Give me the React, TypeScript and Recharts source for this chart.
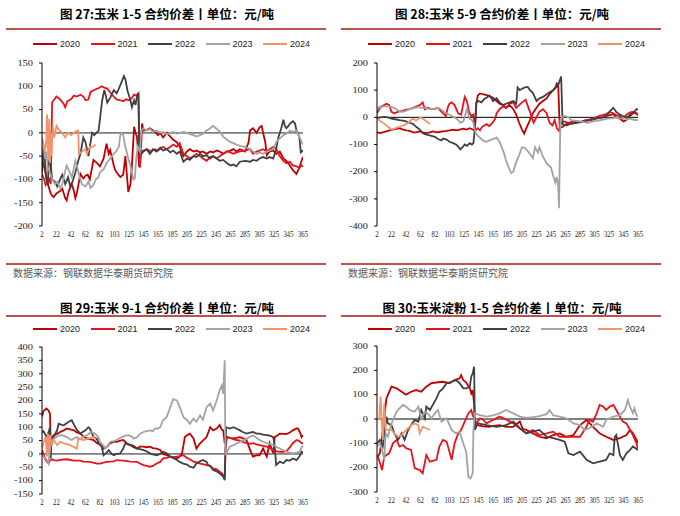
import React from 'react'
import { LineChart, Line, XAxis, YAxis, ReferenceLine } from 'recharts'

// x axis is the category index (0..360), labelled every 20 categories
const xLabels = ['2', '22', '42', '62', '82', '103', '125', '145', '165', '185', '205', '225', '245', '265', '285', '305', '325', '345', '365']
const xTicks = xLabels.map((_, i) => i * 20)

const years = ['2020', '2021', '2022', '2023', '2024']
const colors = ['#C00000', '#E8121C', '#404040', '#A3A3A3', '#F4936A']

type Pt = [number, number]

// 图27 玉米 1-5
const c15_2020: Pt[] = [[0,-55],[4,-80],[8,-110],[12,-130],[14,-135],[16,-138],[20,-130],[25,-125],[28,-120],[32,-140],[34,-145],[37,-125],[41,-110],[44,-125],[46,-140],[48,-130],[53,-88],[57,-98],[60,-92],[63,-90],[66,-100],[71,-58],[76,-65],[80,-72],[85,-55],[89,-23],[92,-45],[94,-37],[99,-70],[101,-80],[103,-85],[108,-95],[112,-90],[115,-50],[119,-127],[122,-110],[124,-72],[127,13],[129,0],[131,-8],[134,-73],[137,-20],[138,20],[140,5],[144,6],[149,10],[156,2],[160,-5],[163,0],[167,-10],[172,0],[177,-8],[181,-15],[186,-20],[190,-30],[195,-50],[200,-40],[204,-35],[209,-40],[213,-38],[218,-42],[222,-40],[227,-45],[232,-40],[236,-42],[241,-38],[245,-40],[250,-45],[255,-40],[260,-38],[264,-35],[268,-40],[273,-35],[280,-40],[285,-20],[287,5],[291,10],[296,0],[300,12],[303,15],[305,0],[308,-20],[310,-48],[314,-40],[319,-38],[323,-45],[328,-40],[333,-55],[337,-60],[342,-70],[346,-80],[351,-88],[355,-75],[358,-60],[360,-52]]
const c15_2021: Pt[] = [[0,-88],[3,-100],[5,-112],[8,-105],[10,-100],[12,-110],[14,65],[16,70],[20,78],[25,72],[30,62],[32,55],[35,68],[40,72],[44,80],[48,78],[53,82],[57,78],[60,70],[64,72],[67,88],[72,92],[78,96],[82,100],[86,97],[90,95],[95,85],[99,78],[103,72],[108,70],[112,68],[116,72],[120,70],[124,75],[127,82],[130,80],[133,85],[135,-75],[137,-40],[140,-38],[145,-35],[150,-40],[156,-35],[160,-38],[167,-30],[172,-35],[177,-30],[181,-25],[186,-30],[190,-22],[195,-45],[200,-50],[204,-55],[209,-50],[213,-45],[218,-50],[222,-55],[227,-60],[232,-52],[236,-50],[241,-55],[245,-50],[250,-45],[255,-40],[260,-42],[264,-45],[268,-42],[273,-40],[280,-38],[287,-35],[291,-45],[296,-40],[300,-38],[305,-35],[310,-40],[314,-35],[319,-30],[323,-35],[328,-50],[333,-60],[337,-65],[342,-62],[346,-70],[351,-72],[355,-75],[358,-70],[360,-72]]
const c15_2022: Pt[] = [[0,-85],[2,-30],[4,-60],[6,-100],[8,-110],[10,-40],[12,-70],[14,-100],[18,-105],[21,-115],[25,-100],[28,-90],[32,-110],[36,-95],[39,-115],[42,-105],[46,-85],[50,-60],[53,-45],[57,-10],[60,-20],[62,-35],[64,-50],[66,-30],[69,0],[72,-5],[75,0],[78,5],[80,30],[83,70],[86,92],[88,80],[90,65],[94,75],[99,92],[103,85],[106,95],[110,110],[113,122],[115,115],[118,90],[120,80],[122,70],[124,55],[127,70],[129,60],[131,78],[133,85],[134,-40],[137,-45],[140,-40],[144,-35],[149,-45],[153,-35],[158,-40],[163,-32],[167,-38],[172,-35],[177,-42],[181,-38],[186,-45],[190,-40],[195,-62],[200,-55],[204,-58],[209,-50],[213,-52],[218,-45],[222,-50],[227,-48],[232,-55],[236,-50],[241,-55],[245,-60],[250,-58],[255,-65],[260,-70],[264,-68],[268,-72],[273,-62],[280,-60],[287,-62],[291,-58],[296,-60],[300,-55],[305,-52],[310,-55],[314,-52],[319,-55],[323,-35],[326,-10],[330,10],[333,28],[335,15],[337,10],[340,15],[342,20],[346,25],[349,20],[351,5],[353,0],[355,-10],[357,-42],[360,-38]]
const c15_2023: Pt[] = [[0,-10],[2,-25],[4,-55],[6,-40],[8,-75],[11,-85],[14,-100],[18,-110],[21,-105],[25,-118],[28,-110],[30,-95],[34,-70],[37,-80],[41,-95],[44,-75],[46,-60],[48,-70],[51,-90],[55,-110],[60,-115],[64,-105],[67,-118],[71,-112],[74,-100],[78,-95],[80,-85],[85,-78],[89,-65],[94,-55],[99,-45],[103,-38],[106,-30],[108,-5],[110,0],[112,-5],[115,-30],[119,-55],[122,-70],[126,-100],[128,-98],[130,-55],[132,-30],[135,-40],[137,5],[140,10],[144,5],[149,8],[153,2],[158,5],[163,0],[167,2],[172,-3],[177,0],[181,2],[186,-2],[190,0],[195,2],[200,0],[204,-3],[209,-5],[213,-8],[218,-5],[222,-2],[227,5],[232,10],[236,15],[240,10],[245,3],[250,-8],[255,-15],[260,-20],[264,-22],[268,-25],[273,-28],[280,-30],[287,-35],[291,-40],[296,-45],[300,-42],[305,-45],[310,-40],[314,-38],[319,-35],[323,-20],[328,-12],[333,-5],[337,-2],[342,5],[346,2],[351,5],[353,-2],[357,-15],[360,-25]]
const c15_2024: Pt[] = [[0,-15],[2,-25],[4,-40],[6,-15],[7,40],[8,-30],[9,-60],[10,30],[11,-65],[12,0],[13,-50],[15,15],[17,-10],[20,15],[24,5],[28,0],[32,-10],[36,0],[40,-5],[44,0],[48,5],[50,5],[51,-45],[55,-40],[60,-35],[62,-45],[66,-30],[70,-30],[74,-25]]

// 图28 玉米 5-9
const c59_2020: Pt[] = [[0,-55],[4,-58],[8,-55],[13,-52],[17,-48],[22,-45],[27,-42],[31,-40],[36,-45],[40,-48],[45,-50],[50,-55],[54,-55],[59,-52],[63,-55],[68,-58],[73,-55],[77,-52],[82,-55],[86,-54],[91,-52],[96,-50],[100,-48],[105,-45],[109,-48],[114,-45],[119,-42],[123,-45],[128,-40],[132,-45],[135,-50],[137,50],[139,80],[142,88],[146,85],[151,82],[155,78],[160,72],[165,60],[169,50],[174,45],[178,35],[183,45],[188,30],[192,10],[196,-20],[200,-45],[203,-60],[206,-40],[211,-10],[215,15],[220,35],[224,50],[229,60],[234,70],[238,85],[243,100],[247,110],[250,120],[252,-40],[256,-35],[261,-25],[266,-20],[271,-22],[276,-15],[280,-18],[286,-12],[291,-10],[296,-8],[300,-5],[305,0],[310,-2],[316,5],[321,8],[326,12],[330,0],[335,-5],[340,-15],[344,-10],[349,10],[353,20],[358,15],[360,8]]
const c59_2021: Pt[] = [[0,15],[3,30],[6,40],[10,45],[13,50],[17,45],[20,20],[24,15],[27,18],[31,22],[36,25],[40,28],[45,30],[50,35],[54,40],[59,45],[63,55],[66,30],[70,35],[75,30],[80,32],[84,35],[89,20],[95,5],[98,40],[100,50],[103,55],[107,45],[112,15],[116,10],[121,75],[124,60],[127,20],[130,5],[133,10],[135,-50],[139,-40],[142,-48],[145,-35],[151,-25],[155,-32],[160,-18],[163,-5],[165,15],[169,30],[174,40],[178,35],[183,50],[188,55],[192,35],[196,45],[200,55],[205,65],[209,35],[213,5],[216,-20],[220,0],[224,20],[229,30],[234,15],[238,-20],[242,-30],[245,-10],[248,-40],[251,-50],[254,-20],[258,-15],[264,-20],[271,-15],[280,-18],[289,-10],[298,-5],[307,5],[316,12],[321,20],[326,15],[330,8],[335,5],[339,-5],[344,10],[349,18],[353,20],[358,12],[360,10]]
const c59_2022: Pt[] = [[0,-3],[5,0],[10,2],[15,0],[20,-5],[27,-8],[31,-10],[36,-12],[40,-15],[45,-20],[50,-25],[54,-35],[59,-45],[63,-58],[66,-62],[70,-65],[75,-68],[80,-72],[84,-80],[89,-85],[91,-78],[96,-82],[100,-90],[105,-95],[109,-100],[112,-108],[115,-118],[118,-110],[121,-100],[124,-105],[128,-95],[131,-100],[133,-95],[135,-40],[137,55],[140,60],[144,55],[148,68],[151,72],[155,80],[158,70],[160,60],[165,70],[169,55],[174,45],[178,50],[183,55],[188,60],[192,50],[194,110],[197,100],[200,105],[204,110],[208,112],[211,100],[215,90],[220,60],[224,70],[229,75],[234,85],[238,92],[243,100],[246,110],[248,125],[250,120],[252,135],[254,150],[256,-25],[261,-30],[266,-25],[271,-22],[276,-20],[280,-18],[286,-15],[291,-12],[298,-8],[305,-3],[312,0],[318,10],[322,25],[326,35],[330,20],[335,10],[339,5],[344,0],[349,5],[353,15],[358,30],[360,28]]
const c59_2023: Pt[] = [[0,35],[5,38],[10,40],[15,40],[20,38],[24,35],[29,25],[34,20],[38,22],[43,28],[47,32],[52,35],[57,38],[61,35],[66,35],[70,32],[75,30],[80,30],[84,35],[89,28],[93,18],[98,12],[103,5],[107,0],[112,-10],[115,-20],[119,-15],[122,10],[124,35],[126,10],[128,-5],[131,-10],[133,-20],[135,-50],[138,-65],[142,-75],[146,-85],[151,-90],[155,-85],[160,-80],[165,-75],[169,-90],[172,-110],[175,-130],[178,-160],[181,-180],[185,-205],[188,-200],[192,-165],[196,-140],[200,-110],[204,-112],[208,-125],[211,-135],[215,-150],[218,-110],[222,-130],[224,-110],[229,-145],[234,-170],[238,-180],[240,-185],[243,-215],[246,-240],[248,-220],[250,-255],[251,-335],[253,-10],[255,0],[259,5],[264,0],[268,-10],[273,-12],[280,-15],[286,-18],[291,-20],[298,-15],[305,-12],[312,-8],[318,-5],[326,-3],[330,0],[335,-5],[340,-3],[344,-8],[349,-5],[353,-8],[358,-10],[360,-10]]
const c59_2024: Pt[] = [[0,-5],[3,-10],[5,-15],[8,-20],[11,-25],[15,-35],[20,-45],[24,-42],[27,-38],[31,-35],[34,-32],[38,-28],[40,-25],[43,-20],[47,-10],[50,-5],[52,-8],[54,-12],[57,-5],[59,-2],[61,0],[63,-5],[66,-10],[68,-15],[70,-18],[73,-25]]

// 图29 玉米 9-1
const c91_2020: Pt[] = [[0,140],[2,160],[6,170],[9,162],[11,150],[12,40],[14,60],[16,70],[21,75],[25,82],[30,88],[34,95],[39,92],[44,88],[48,80],[53,76],[57,65],[62,58],[66,55],[71,52],[76,40],[80,35],[85,20],[89,25],[94,40],[99,45],[103,45],[108,50],[112,52],[117,40],[122,33],[126,25],[131,20],[135,27],[140,27],[144,25],[149,27],[153,22],[158,20],[163,15],[167,0],[172,-5],[177,-10],[181,-15],[186,-17],[190,-10],[193,2],[195,30],[197,63],[200,70],[204,76],[209,58],[213,20],[218,40],[222,50],[227,63],[232,100],[236,88],[241,95],[245,108],[248,90],[250,88],[252,40],[255,63],[259,60],[264,58],[268,60],[273,63],[277,58],[282,52],[287,15],[291,-10],[296,-5],[300,-5],[305,20],[310,-10],[314,40],[319,2],[321,63],[325,70],[328,76],[333,75],[337,74],[342,80],[346,88],[351,95],[353,95],[356,80],[358,63],[360,70]]
const c91_2021: Pt[] = [[0,14],[2,0],[5,-23],[7,-30],[9,-36],[11,-25],[14,-20],[16,-23],[21,-25],[25,-22],[34,-20],[44,-25],[53,-25],[57,-29],[66,-30],[76,-36],[80,-36],[89,-30],[99,-28],[103,-23],[112,-25],[122,-29],[131,-30],[135,-36],[140,-42],[144,-45],[149,-48],[153,-45],[158,-36],[163,-30],[167,-17],[172,-15],[177,-10],[181,-12],[186,-10],[190,-8],[195,-5],[200,-15],[204,-20],[209,-29],[213,-32],[218,-36],[222,-38],[227,-42],[232,-45],[236,-54],[241,-58],[245,-67],[248,-72],[250,-80],[252,-85],[253,14],[255,63],[259,60],[264,55],[268,52],[273,50],[277,45],[282,40],[287,38],[291,40],[296,36],[300,33],[305,30],[310,27],[314,22],[319,14],[323,10],[328,8],[333,8],[337,10],[342,25],[346,40],[351,52],[355,48],[358,40],[360,40]]
const c91_2022: Pt[] = [[0,80],[2,85],[5,70],[7,63],[10,90],[11,100],[12,-17],[13,40],[16,63],[21,90],[23,113],[28,108],[30,107],[34,115],[37,120],[41,126],[44,110],[46,100],[48,90],[53,76],[55,80],[60,88],[64,100],[66,95],[67,90],[71,63],[76,55],[78,40],[82,30],[85,-5],[89,5],[92,14],[96,0],[99,-5],[103,0],[108,2],[112,20],[115,40],[119,35],[124,33],[128,28],[131,20],[135,18],[140,14],[144,10],[149,2],[153,-2],[158,-5],[163,0],[167,8],[172,2],[177,-10],[181,-15],[186,-23],[190,-30],[195,-36],[200,-40],[204,-48],[209,-52],[213,-36],[218,-28],[222,-23],[227,-30],[229,-42],[232,-45],[236,-60],[241,-65],[245,-73],[248,-80],[250,-85],[252,-98],[254,100],[259,95],[264,100],[268,95],[273,88],[277,82],[282,76],[287,80],[291,82],[296,76],[300,76],[305,72],[310,70],[314,68],[319,63],[321,30],[323,-42],[328,-29],[333,-35],[337,-23],[342,-25],[346,-17],[351,-23],[355,-10],[358,8],[360,5]]
const c91_2023: Pt[] = [[0,0],[2,-10],[5,-17],[7,-25],[9,-36],[11,20],[14,45],[16,57],[21,65],[25,70],[30,68],[34,63],[39,55],[41,52],[44,58],[48,63],[53,55],[57,63],[62,70],[66,78],[67,82],[73,76],[78,62],[80,45],[85,30],[87,20],[92,35],[94,45],[99,48],[103,52],[106,57],[110,63],[115,68],[119,70],[124,65],[126,57],[131,62],[135,75],[140,82],[144,85],[149,88],[153,85],[156,95],[160,95],[163,100],[167,126],[172,138],[177,175],[181,205],[186,200],[190,175],[195,138],[200,126],[204,113],[209,132],[213,120],[218,144],[222,128],[227,175],[232,188],[236,163],[241,200],[245,238],[248,256],[250,225],[252,350],[253,-5],[259,27],[264,33],[273,45],[282,57],[291,70],[300,52],[310,40],[319,33],[328,20],[337,8],[346,2],[351,5],[355,8],[360,33]]
const c91_2024: Pt[] = [[0,20],[2,40],[5,63],[7,-10],[8,76],[10,2],[11,70],[14,33],[16,52],[21,33],[25,45],[30,40],[39,33],[48,20],[50,57],[57,52],[64,57],[71,63],[74,55]]

// 图30 玉米淀粉 1-5
const s15_2020: Pt[] = [[0,-160],[4,-140],[8,-50],[13,85],[20,133],[27,126],[34,112],[40,100],[47,112],[54,119],[61,112],[68,133],[75,147],[82,150],[91,153],[100,147],[107,160],[114,167],[116,180],[119,160],[123,150],[128,126],[130,105],[132,119],[134,60],[135,-20],[139,-25],[146,-30],[155,-32],[160,-28],[169,-25],[178,-32],[188,-32],[197,-10],[201,-40],[206,-45],[215,-59],[224,-73],[234,-79],[243,-66],[252,-59],[261,-73],[271,-66],[280,-25],[289,-4],[298,-32],[307,-59],[316,-73],[326,-86],[335,-79],[344,-66],[349,-45],[353,-59],[358,-86],[360,-100]]
const s15_2021: Pt[] = [[0,-150],[3,-170],[7,-210],[10,-155],[17,-140],[22,-100],[27,-86],[31,-113],[36,-107],[40,-120],[47,-127],[52,-202],[59,-210],[63,-223],[68,-148],[73,-175],[82,-168],[86,-113],[91,-86],[96,-93],[103,-168],[107,-100],[112,-59],[116,-45],[121,-11],[126,23],[130,37],[132,16],[137,-18],[142,3],[146,-2],[151,-18],[160,-4],[169,10],[178,-2],[188,-18],[197,-38],[206,-59],[215,-45],[224,-66],[234,-59],[243,-52],[252,-73],[261,-73],[271,-73],[280,-73],[289,-32],[293,-4],[298,-11],[303,23],[307,58],[312,51],[316,37],[321,51],[326,58],[330,37],[335,10],[339,-11],[344,-18],[349,-45],[353,-66],[358,-100],[360,-127]]
const s15_2022: Pt[] = [[0,-100],[4,-86],[8,-113],[13,10],[15,-18],[20,-25],[24,-59],[29,-86],[34,-59],[38,-86],[43,-45],[47,-25],[52,-4],[57,-11],[61,37],[66,3],[68,51],[73,37],[77,58],[82,85],[86,112],[91,126],[96,147],[103,153],[109,160],[114,147],[119,126],[123,126],[128,133],[130,174],[132,188],[134,215],[135,-45],[139,-18],[151,-25],[165,-32],[178,-25],[188,-11],[197,-38],[206,-59],[215,-52],[224,-45],[234,-73],[243,-79],[252,-86],[259,-93],[264,-141],[271,-148],[280,-134],[289,-168],[298,-182],[307,-175],[316,-168],[321,-141],[326,-148],[328,-73],[330,-66],[335,-148],[339,-168],[344,-141],[349,-127],[353,-113],[360,-127]]
const s15_2023: Pt[] = [[0,-113],[4,-100],[7,-127],[10,-168],[12,-59],[15,-73],[20,-18],[22,-5],[27,30],[31,44],[36,58],[40,51],[45,37],[52,30],[57,51],[61,3],[66,30],[70,23],[75,3],[80,23],[84,37],[89,-11],[96,3],[103,-45],[109,-59],[114,-52],[119,-100],[123,-134],[126,-237],[129,-244],[132,-223],[133,-45],[135,23],[142,16],[151,10],[160,15],[169,23],[178,37],[188,23],[197,10],[206,5],[215,8],[224,12],[234,20],[238,37],[243,15],[252,10],[261,3],[271,-18],[280,-25],[286,-45],[293,-38],[303,-18],[312,-32],[316,-4],[326,10],[335,16],[342,37],[346,78],[349,51],[353,23],[355,44],[358,16],[360,10]]
const s15_2024: Pt[] = [[0,-4],[3,3],[5,92],[6,23],[8,-86],[10,64],[12,-45],[15,-45],[20,-45],[24,-59],[29,-73],[34,-66],[38,-52],[43,-38],[47,-25],[52,-18],[57,-25],[59,-59],[63,-32],[68,-38],[73,-45]]

const panels = [
  { title: '图 27:玉米 1-5 合约价差丨单位：元/吨', series: [c15_2020, c15_2021, c15_2022, c15_2023, c15_2024], yDomain: [-200, 150], yTicks: [-200, -150, -100, -50, 0, 50, 100, 150], zero: '#7F7F7F', zeroW: 1.6, left: 0, titleTop: 5.5, ruleTop: 28, legendTop: 38, chartTop: 55, plotH: 163, source: true },
  { title: '图 28:玉米 5-9 合约价差丨单位：元/吨', series: [c59_2020, c59_2021, c59_2022, c59_2023, c59_2024], yDomain: [-400, 200], yTicks: [-400, -300, -200, -100, 0, 100, 200], zero: '#000000', zeroW: 1, left: 335, titleTop: 5.5, ruleTop: 28, legendTop: 38, chartTop: 55, plotH: 163, source: true },
  { title: '图 29:玉米 9-1 合约价差丨单位：元/吨', series: [c91_2020, c91_2021, c91_2022, c91_2023, c91_2024], yDomain: [-150, 400], yTicks: [-150, -100, -50, 0, 50, 100, 150, 200, 250, 300, 350, 400], zero: '#7F7F7F', zeroW: 1.6, left: 0, titleTop: 300, ruleTop: 315, legendTop: 323, chartTop: 339, plotH: 147, source: false },
  { title: '图 30:玉米淀粉 1-5 合约价差丨单位：元/吨', series: [s15_2020, s15_2021, s15_2022, s15_2023, s15_2024], yDomain: [-300, 300], yTicks: [-300, -200, -100, 0, 100, 200, 300], zero: '#000000', zeroW: 1, left: 335, titleTop: 300, ruleTop: 315, legendTop: 323, chartTop: 338, plotH: 146, source: false },
]

const RULE = '#C0504D'
const SERIF = '"Liberation Serif", "Times New Roman", serif'

// the original tick text is stretched sideways on y and squeezed on x
function YTick({ x, y, payload }: any) {
  return (
    <g transform={`translate(${x},${y})`}>
      <text transform="scale(1.3,1)" textAnchor="end" dy="0.35em" fontSize={8} fill="#222" fontFamily={SERIF}>{payload.value}</text>
    </g>
  )
}

function XTick({ x, y, payload }: any) {
  return (
    <g transform={`translate(${x},${y})`}>
      <text transform="scale(0.85,1)" textAnchor="middle" dy="0.71em" fontSize={8} fill="#222" fontFamily={SERIF}>{xLabels[Math.round(payload.value / 20)]}</text>
    </g>
  )
}

function Legend({ left, top }: { left: number; top: number }) {
  return (
    <>
      {years.map((y, i) => (
        <div key={y} style={{ position: 'absolute', left: left + 33 + i * 57.5, top, height: 12, display: 'flex', alignItems: 'center' }}>
          <div style={{ width: 24, height: 2, background: colors[i] }} />
          <span style={{ marginLeft: 3, fontSize: 9, lineHeight: '12px', color: '#222', fontFamily: '"Liberation Sans", Arial, sans-serif' }}>{y}</span>
        </div>
      ))}
    </>
  )
}

function Panel(p: typeof panels[number]) {
  return (
    <>
      <div style={{ position: 'absolute', left: p.left, top: p.titleTop, width: 334, textAlign: 'center', fontSize: 12.5, fontWeight: 700, lineHeight: '16px', color: '#000', fontFamily: '"Noto Sans CJK SC", sans-serif', whiteSpace: 'nowrap' }}>{p.title}</div>
      <div style={{ position: 'absolute', left: p.left + 6, top: p.ruleTop, width: 320, height: 2, background: RULE }} />
      <Legend left={p.left} top={p.legendTop} />
      <div style={{ position: 'absolute', left: p.left, top: p.chartTop }}>
        <LineChart width={320} height={8 + p.plotH + 20} margin={{ top: 8, right: 17, bottom: 0, left: 0 }}>
          <XAxis type="number" dataKey="x" domain={[0, 360]} ticks={xTicks} interval={0} axisLine={false} tickLine={false} tickSize={0} tickMargin={5} height={20} tick={<XTick />} allowDataOverflow />
          <YAxis type="number" domain={p.yDomain} ticks={p.yTicks} interval={0} width={42} axisLine={{ stroke: '#000' }} tickLine={{ stroke: '#000' }} tickSize={3} tickMargin={6} tick={<YTick />} allowDataOverflow />
          <ReferenceLine y={0} stroke={p.zero} strokeWidth={p.zeroW} />
          {p.series.map((d, i) => (
            <Line key={years[i]} data={d.map(([x, y]) => ({ x, y }))} dataKey="y" name={years[i]} stroke={colors[i]} strokeWidth={1.8} dot={false} isAnimationActive={false} />
          ))}
        </LineChart>
      </div>
      {p.source && (
        <>
          <div style={{ position: 'absolute', left: p.left + 6, top: 263, width: 320, height: 2, background: RULE }} />
          <div style={{ position: 'absolute', left: p.left + 13, top: 266, fontSize: 10, lineHeight: '14px', color: '#595959', fontFamily: '"Noto Sans CJK SC", sans-serif', whiteSpace: 'nowrap' }}>数据来源：钢联数据华泰期货研究院</div>
        </>
      )}
    </>
  )
}

export default function App() {
  return (
    <div style={{ position: 'absolute', left: 0, top: 0, width: 680, height: 516, background: '#fff', overflow: 'hidden' }}>
      {panels.map((p) => <Panel key={p.title} {...p} />)}
    </div>
  )
}
